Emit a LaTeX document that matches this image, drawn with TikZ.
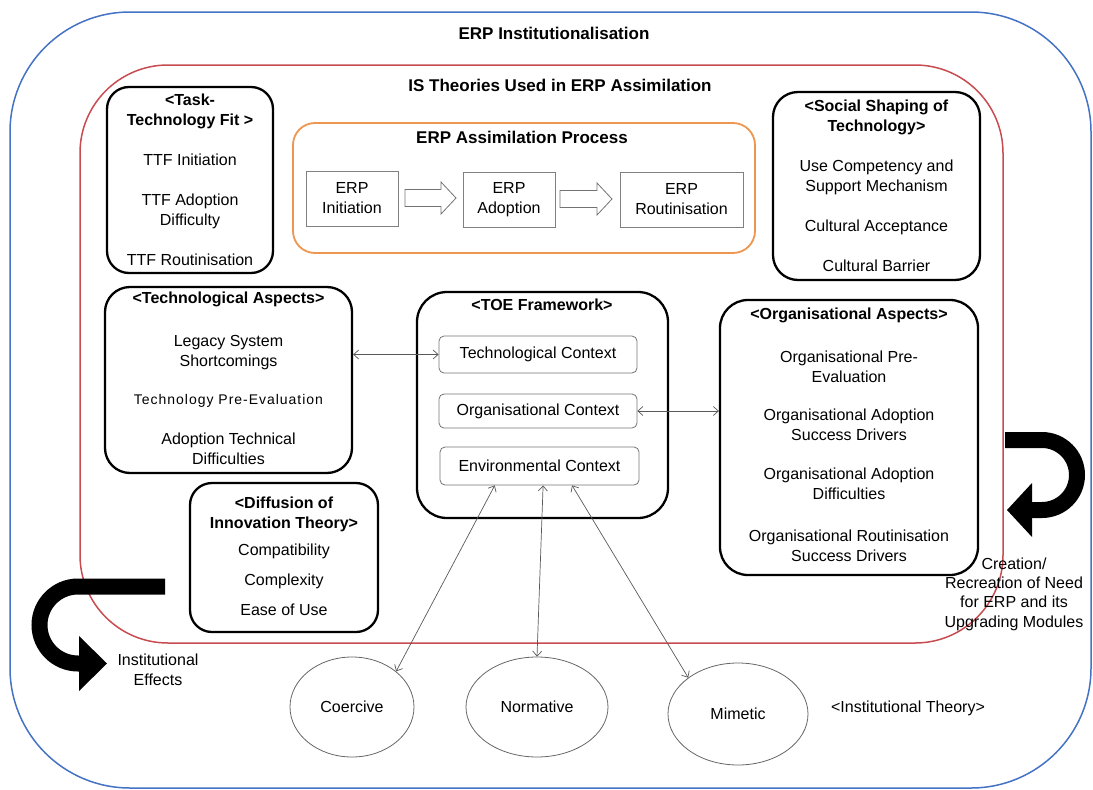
\documentclass[tikz,border=0pt]{standalone}
\usepackage{fontspec}
\setmainfont{Liberation Sans}
\usetikzlibrary{arrows.meta,shapes.geometric,calc}
\definecolor{oblue}{RGB}{68,114,196}
\definecolor{ored}{RGB}{200,75,80}
\definecolor{oorange}{RGB}{237,150,80}
\begin{document}
\begin{tikzpicture}[x=1pt,y=-1pt,
  every node/.style={font=\fontsize{16}{20}\selectfont, inner sep=0pt, align=center},
  bbox/.style={draw=black, line width=2.3pt, rounded corners=22pt},
  ibox/.style={draw=black!55, line width=0.8pt, rounded corners=5pt},
  pbox/.style={draw=black!50, line width=0.8pt},
  ell/.style={ellipse, draw=black!60, line width=0.8pt},
  barrow/.style={draw=black!55, line width=0.8pt},
  >={Straight Barb[length=5pt,width=9pt]},
  conn/.style={draw=black!65, line width=0.7pt, <->},
  bigarrow/.style={draw=black, line width=16pt},
  titlefont/.style={font=\fontsize{17}{20}\selectfont\bfseries}]
\useasboundingbox (0,0) rectangle (1093,790);
% frames
\draw[oblue, line width=1.5pt, rounded corners=120pt] (10,12) rectangle (1091,788);
\draw[ored, line width=1.5pt, rounded corners=88pt] (80,65) rectangle (1003,643);
\node[titlefont] (t1) at (554,33) {ERP Institutionalisation};
\node[titlefont] (t2) at (560,85) {IS Theories Used in ERP Assimilation};

% Task-Technology Fit
\node[bbox, minimum width=166pt, minimum height=186pt] (ttf) at (190,180) {};
\node (ttft) at (190,180) {\textbf{<Task-}\\\textbf{Technology Fit >}\\[20pt]TTF Initiation\\[20pt]TTF Adoption\\Difficulty\\[20pt]TTF Routinisation};

% Social Shaping
\node[bbox, rounded corners=25pt, minimum width=207pt, minimum height=188pt] (sst) at (876.5,186) {};
\node (sstt) at (876.5,186) {\textbf{<Social Shaping of}\\\textbf{Technology>}\\[20pt]Use Competency and\\Support Mechanism\\[20pt]Cultural Acceptance\\[20pt]Cultural Barrier};

% ERP Assimilation Process
\node[draw=oorange, line width=1.8pt, rounded corners=22pt, minimum width=462pt, minimum height=130pt] (proc) at (524,188) {};
\node[titlefont] (proct) at (522,137) {ERP Assimilation Process};
\node[pbox, minimum width=92pt, minimum height=55pt] (init) at (352,198.5) {ERP\\Initiation};
\node[pbox, minimum width=92pt, minimum height=55pt] (adopt) at (509,199.5) {ERP\\Adoption};
\node[pbox, minimum width=123pt, minimum height=55pt] (rout) at (681.5,199.5) {ERP\\Routinisation};
\draw[barrow] (405,189.5) -- (441,189.5) -- (441,182) -- (456,198) -- (441,214) -- (441,206.5) -- (405,206.5) -- cycle;
\draw[barrow] (560,190.5) -- (597,190.5) -- (597,183) -- (612,199) -- (597,215) -- (597,207.5) -- (560,207.5) -- cycle;

% Technological Aspects
\node[bbox, rounded corners=25pt, minimum width=247pt, minimum height=186pt] (ta) at (228.5,380) {};
\node (tat) at (228.5,378) {\textbf{<Technological Aspects>}\\[23pt]Legacy System\\Shortcomings\\[18pt]{\fontsize{14}{20}\selectfont\addfontfeature{LetterSpace=7}Technology Pre-Evaluation}\\[20pt]Adoption Technical\\Difficulties};

% Diffusion of Innovation
\node[bbox, minimum width=188pt, minimum height=149pt] (doi) at (284,557.5) {};
\node (doit) at (284,556.5) {\textbf{<Diffusion of}\\\textbf{Innovation Theory>}\\[7pt]Compatibility\\[10pt]Complexity\\[10pt]Ease of Use};

% TOE Framework
\node[bbox, rounded corners=30pt, minimum width=251pt, minimum height=226pt] (toe) at (542.5,405) {};
\node[font=\fontsize{16}{20}\selectfont\bfseries] (toet) at (542,305) {<TOE Framework>};
\node[ibox, minimum width=198pt, minimum height=37pt] (tc) at (538,354.5) {Technological Context};
\node[ibox, minimum width=198pt, minimum height=34pt] (oc) at (538,411) {Organisational Context};
\node[ibox, minimum width=199pt, minimum height=38pt] (ec) at (539.5,466) {Environmental Context};

% Organisational Aspects
\node[bbox, rounded corners=28pt, minimum width=258pt, minimum height=275pt] (oa) at (849,437.5) {};
\node (oat) at (849,435) {\textbf{<Organisational Aspects>}\\[23pt]Organisational Pre-\\Evaluation\\[18pt]Organisational Adoption\\Success Drivers\\[19pt]Organisational Adoption\\Difficulties\\[22pt]Organisational Routinisation\\Success Drivers};

% Institutional theory
\node[ell, minimum width=124pt, minimum height=100pt] (coe) at (352,707) {Coercive};
\node[ell, minimum width=142pt, minimum height=100pt] (nor) at (537,707) {Normative};
\node[ell, minimum width=140pt, minimum height=102pt] (mim) at (738,714) {Mimetic};
\node (instth) at (908,708) {<Institutional Theory>};

% connectors
\draw[conn] (tc.west -| ta.east) -- (tc.west);
\draw[conn] (oc.east) -- (oc.east -| oa.west);
\draw[conn] ($(ec.south west)!0.276!(ec.south east)$) -- (coe.north east);
\draw[conn] ($(ec.south west)!0.518!(ec.south east)$) -- (nor.north);
\draw[conn] ($(ec.south west)!0.663!(ec.south east)$) -- (mim.north west);

% big curved arrows
\draw[bigarrow] (165,586.5) -- (78,586.5) .. controls (56.7,586.5) and (39.5,603.8) .. (39.5,625) .. controls (39.5,646.2) and (56.7,663.5) .. (78,663.5) -- (80,663.5);
\fill (79,636) -- (107,663.5) -- (79,691) -- cycle;
\node (insteff) at (158,670) {Institutional\\Effects};

\draw[bigarrow] (1005,440) -- (1042,440) .. controls (1061.3,440) and (1077,455.7) .. (1077,475) .. controls (1077,494.3) and (1061.3,510) .. (1042,510) -- (1031,510);
\fill (1032,483) -- (1007,510) -- (1032,537) -- cycle;
\node[font=\fontsize{16}{19.4}\selectfont] (creation) at (1014,594) {Creation/\\Recreation of Need\\for ERP and its\\Upgrading Modules};
\end{tikzpicture}
\end{document}
